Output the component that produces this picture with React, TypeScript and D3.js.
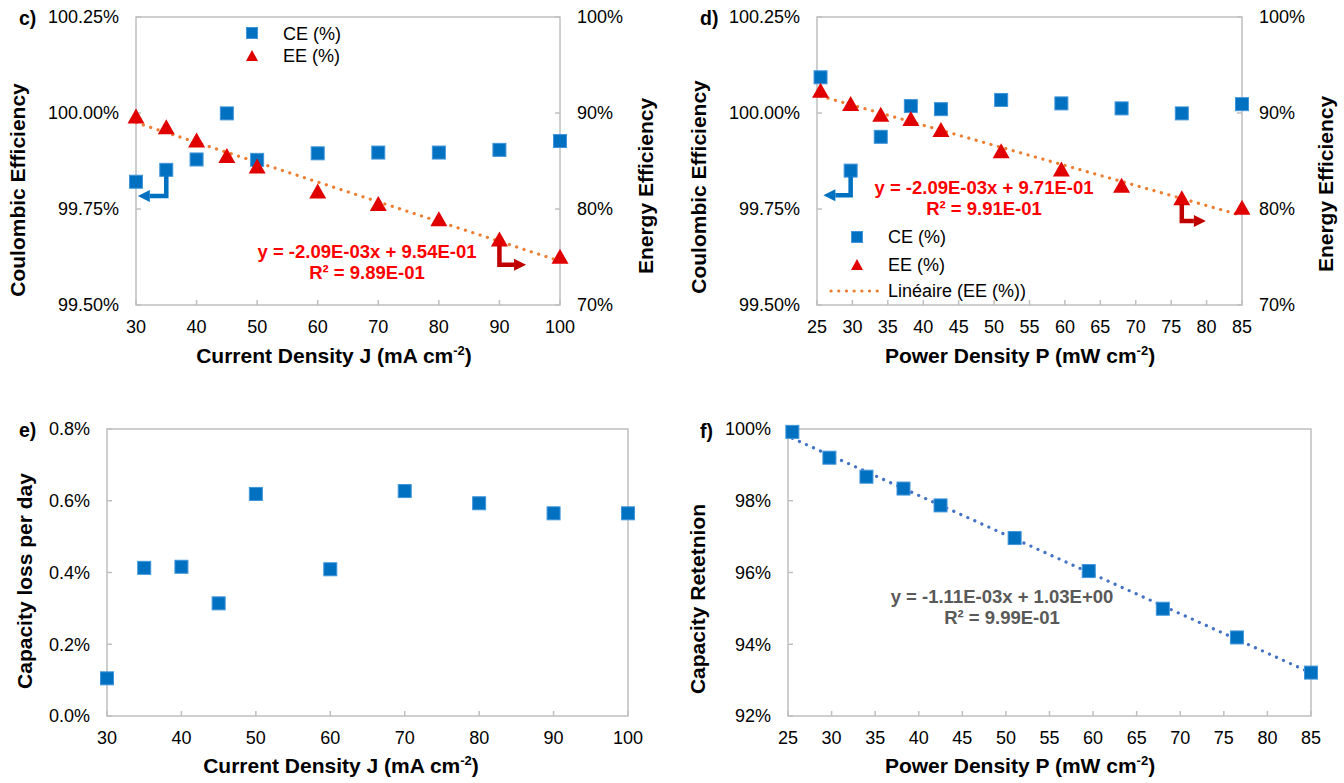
import React from 'react';
import * as d3 from 'd3';

// ---------- DATA ----------
const currentDensity = [30, 35, 40, 45, 50, 60, 70, 80, 90, 100];
const powerDensity = [25.5, 29.75, 34, 38.25, 42.5, 51, 59.5, 68, 76.5, 85];
const ceByCurrent = [99.821, 99.852, 99.879, 99.999, 99.878, 99.895, 99.897, 99.897, 99.904, 99.927];
const eeByCurrent = [89.6, 88.5, 87.1, 85.5, 84.4, 81.8, 80.5, 78.9, 76.8, 75.0];
const ceByPower = [100.093, 99.85, 99.938, 100.018, 100.01, 100.034, 100.025, 100.012, 99.999, 100.023];
const eeByPower = [92.3, 90.9, 89.8, 89.35, 88.2, 86.0, 84.1, 82.4, 81.1, 80.1];
const lossByCurrent = [0.105, 0.413, 0.416, 0.314, 0.619, 0.409, 0.627, 0.593, 0.565, 0.565];
const retentionByPower = [99.92, 99.2, 98.67, 98.34, 97.87, 96.96, 96.04, 94.99, 94.19, 93.21];

const currentTicks = [30, 40, 50, 60, 70, 80, 90, 100];
const powerTicks = [25, 30, 35, 40, 45, 50, 55, 60, 65, 70, 75, 80, 85];
const ceTicks = [99.5, 99.75, 100.0, 100.25];
const eeTicks = [70, 80, 90, 100];
const lossTicks = [0, 0.2, 0.4, 0.6, 0.8];
const retentionTicks = [92, 94, 96, 98, 100];

const eqC = ['y = -2.09E-03x + 9.54E-01', 'R² = 9.89E-01'];
const eqD = ['y = -2.09E-03x + 9.71E-01', 'R² = 9.91E-01'];
const eqF = ['y = -1.11E-03x + 1.03E+00', 'R² = 9.99E-01'];

// ---------- STYLE ----------
const SANS = "'Liberation Sans', Arial, sans-serif";
const AXIS = '#BFBFBF';
const BLUE = '#0070C0';
const BLUE_EDGE = '#3F95DA';
const RED = '#E00000';
const DARKRED = '#C00000';
const ORANGE = '#ED7D31';
const TREND_BLUE = '#4472C4';
const TICK_FS = 18;

function linReg(xs: number[], ys: number[]) {
  const mx = d3.mean(xs) as number;
  const my = d3.mean(ys) as number;
  let sxy = 0, sxx = 0;
  xs.forEach((x, i) => { sxy += (x - mx) * (ys[i] - my); sxx += (x - mx) * (x - mx); });
  const slope = sxy / sxx;
  return { slope, intercept: my - slope * mx };
}

type Box = { l: number; r: number; t: number; b: number };

function T({ x, y, size = TICK_FS, bold = false, anchor = 'start', fill = '#000', dy, children }: any) {
  return (
    <text x={x} y={y} dy={dy} textAnchor={anchor} fontFamily={SANS}
      fontWeight={bold ? 'bold' : 'normal'} fontSize={size} fill={fill}>{children}</text>
  );
}

function Square({ x, y, s = 13 }: { x: number; y: number; s?: number }) {
  return <rect x={x - s / 2} y={y - s / 2} width={s} height={s} fill={BLUE} stroke={BLUE_EDGE} strokeWidth={1} />;
}
function Tri({ x, y, w = 17, h = 15 }: { x: number; y: number; w?: number; h?: number }) {
  return <path d={`M${x},${y - h * 0.55}L${x + w / 2},${y + h * 0.45}L${x - w / 2},${y + h * 0.45}Z`} fill={RED} />;
}

function Frame({ box, x, xTicks, y, yTicks, yFmt, y2, y2Ticks, y2Fmt }: any) {
  return (
    <g>
      <rect x={box.l} y={box.t} width={box.r - box.l} height={box.b - box.t} fill="none" stroke={AXIS} strokeWidth={1.5} />
      {xTicks.map((t: number) => (
        <g key={'x' + t}>
          <line x1={x(t)} x2={x(t)} y1={box.b} y2={box.b - 5} stroke={AXIS} strokeWidth={1.5} />
          <T x={x(t)} y={box.b + 28} anchor="middle">{t}</T>
        </g>
      ))}
      {yTicks.map((t: number) => (
        <g key={'y' + t}>
          <line x1={box.l} x2={box.l + 5} y1={y(t)} y2={y(t)} stroke={AXIS} strokeWidth={1.5} />
          <T x={box.l - 17} y={y(t)} dy="0.36em" anchor="end">{yFmt(t)}</T>
        </g>
      ))}
      {y2 && y2Ticks.map((t: number) => (
        <g key={'y2' + t}>
          <line x1={box.r} x2={box.r - 5} y1={y2(t)} y2={y2(t)} stroke={AXIS} strokeWidth={1.5} />
          <T x={box.r + 17} y={y2(t)} dy="0.36em" anchor="start">{y2Fmt(t)}</T>
        </g>
      ))}
    </g>
  );
}

function XTitle({ x, y, label }: { x: number; y: number; label: string }) {
  return (
    <T x={x} y={y} size={21} bold anchor="middle">
      {label}<tspan fontSize={13} dy={-8}>-2</tspan><tspan dy={8}>)</tspan>
    </T>
  );
}
function YTitle({ x, y, label }: { x: number; y: number; label: string }) {
  return (
    <text transform={`translate(${x},${y}) rotate(-90)`} textAnchor="middle" fontFamily={SANS} fontWeight="bold" fontSize={21} fill="#000">{label}</text>
  );
}
function PanelLabel({ x, y, label }: { x: number; y: number; label: string }) {
  return <T x={x} y={y} size={19.5} bold>{label}</T>;
}
function Equation({ x, y, lines, color }: { x: number; y: number; lines: string[]; color: string }) {
  return (
    <g>
      {lines.map((l, i) => (
        <T key={i} x={x} y={y + i * 21} size={18.5} bold anchor="middle" fill={color}>{l}</T>
      ))}
    </g>
  );
}
function ElbowArrow({ x0, y0, y1, x1, color }: { x0: number; y0: number; y1: number; x1: number; color: string }) {
  const dir = x1 < x0 ? -1 : 1;
  const head = 12;
  return (
    <g>
      <path d={`M${x0},${y0}L${x0},${y1}L${x1 - dir * head},${y1}`} fill="none" stroke={color} strokeWidth={4.5} strokeLinejoin="miter" />
      <path d={`M${x1},${y1}L${x1 - dir * head},${y1 - 6}L${x1 - dir * head},${y1 + 6}Z`} fill={color} />
    </g>
  );
}
function Trend({ xs, ys, x, y, color }: any) {
  const { slope, intercept } = linReg(xs, ys);
  const ends = d3.extent(xs) as [number, number];
  const line = d3.line<number>().x(v => x(v)).y(v => y(slope * v + intercept));
  return <path d={line(ends) || ''} fill="none" stroke={color} strokeWidth={3.2} strokeLinecap="round" strokeDasharray="0.1 7.6" />;
}

const pctFix = (n: number) => (v: number) => d3.format(`.${n}f`)(v) + '%';

export default function App() {
  // Panel c
  const bc: Box = { l: 136, r: 560, t: 17, b: 305 };
  const xc = d3.scaleLinear().domain([30, 100]).range([bc.l, bc.r]);
  const yc = d3.scaleLinear().domain([99.5, 100.25]).range([bc.b, bc.t]);
  const yc2 = d3.scaleLinear().domain([70, 100]).range([bc.b, bc.t]);
  // Panel d
  const bd: Box = { l: 817, r: 1242, t: 17, b: 305 };
  const xd = d3.scaleLinear().domain([25, 85]).range([bd.l, bd.r]);
  const yd = d3.scaleLinear().domain([99.5, 100.25]).range([bd.b, bd.t]);
  const yd2 = d3.scaleLinear().domain([70, 100]).range([bd.b, bd.t]);
  // Panel e
  const be: Box = { l: 107, r: 628, t: 429, b: 716 };
  const xe = d3.scaleLinear().domain([30, 100]).range([be.l, be.r]);
  const ye = d3.scaleLinear().domain([0, 0.8]).range([be.b, be.t]);
  // Panel f
  const bf: Box = { l: 788, r: 1311, t: 429, b: 716 };
  const xf = d3.scaleLinear().domain([25, 85]).range([bf.l, bf.r]);
  const yf = d3.scaleLinear().domain([92, 100]).range([bf.b, bf.t]);

  return (
    <svg width={1344} height={783} style={{ position: 'absolute', left: 0, top: 0, background: '#fff' }}>
      <rect width={1344} height={783} fill="#fff" />

      {/* ---------- c ---------- */}
      <Frame box={bc} x={xc} xTicks={currentTicks} y={yc} yTicks={ceTicks} yFmt={pctFix(2)} y2={yc2} y2Ticks={eeTicks} y2Fmt={pctFix(0)} />
      <Trend xs={currentDensity} ys={eeByCurrent} x={xc} y={yc2} color={ORANGE} />
      {currentDensity.map((v, i) => <Square key={'cc' + i} x={xc(v)} y={yc(ceByCurrent[i])} />)}
      {currentDensity.map((v, i) => <Tri key={'ce' + i} x={xc(v)} y={yc2(eeByCurrent[i])} />)}
      <ElbowArrow x0={xc(currentDensity[1])} y0={yc(ceByCurrent[1]) + 6} y1={yc(99.784)} x1={xc(30.3)} color={BLUE} />
      <ElbowArrow x0={xc(currentDensity[8])} y0={yc2(eeByCurrent[8]) + 6} y1={yc2(74.2)} x1={xc(94.4)} color={DARKRED} />
      <Square x={252} y={33} s={11} />
      <T x={283} y={40}>CE (%)</T>
      <Tri x={252} y={56} w={12} h={11} />
      <T x={283} y={62}>EE (%)</T>
      <Equation x={367} y={258} lines={eqC} color="#FF0000" />
      <PanelLabel x={19} y={25} label="c)" />
      <XTitle x={334} y={363} label="Current Density J (mA cm" />
      <YTitle x={25} y={190} label="Coulombic Efficiency" />
      <YTitle x={653} y={186} label="Energy Efficiency" />

      {/* ---------- d ---------- */}
      <Frame box={bd} x={xd} xTicks={powerTicks} y={yd} yTicks={ceTicks} yFmt={pctFix(2)} y2={yd2} y2Ticks={eeTicks} y2Fmt={pctFix(0)} />
      <Trend xs={powerDensity} ys={eeByPower} x={xd} y={yd2} color={ORANGE} />
      {powerDensity.map((v, i) => <Square key={'dc' + i} x={xd(v)} y={yd(ceByPower[i])} />)}
      {powerDensity.map((v, i) => <Tri key={'de' + i} x={xd(v)} y={yd2(eeByPower[i])} />)}
      <ElbowArrow x0={xd(powerDensity[1])} y0={yd(ceByPower[1]) + 6} y1={yd(99.786)} x1={xd(25.9)} color={BLUE} />
      <ElbowArrow x0={xd(powerDensity[8])} y0={yd2(eeByPower[8]) + 6} y1={yd2(78.75)} x1={xd(79.9)} color={DARKRED} />
      <Equation x={984} y={194} lines={eqD} color="#FF0000" />
      <Square x={857} y={237} s={11} />
      <T x={888} y={243}>CE (%)</T>
      <Tri x={857} y={265} w={12} h={11} />
      <T x={888} y={271}>EE (%)</T>
      <line x1={831} x2={879} y1={291} y2={291} stroke={ORANGE} strokeWidth={3.2} strokeLinecap="round" strokeDasharray="0.1 7.6" />
      <T x={888} y={297}>Linéaire (EE (%))</T>
      <PanelLabel x={700} y={25} label="d)" />
      <XTitle x={1020} y={363} label="Power Density P (mW cm" />
      <YTitle x={706} y={187} label="Coulombic Efficiency" />
      <YTitle x={1333} y={184} label="Energy Efficiency" />

      {/* ---------- e ---------- */}
      <Frame box={be} x={xe} xTicks={currentTicks} y={ye} yTicks={lossTicks} yFmt={pctFix(1)} />
      {currentDensity.map((v, i) => <Square key={'e' + i} x={xe(v)} y={ye(lossByCurrent[i])} />)}
      <PanelLabel x={19} y={437} label="e)" />
      <XTitle x={341} y={773} label="Current Density J (mA cm" />
      <YTitle x={32} y={581} label="Capacity loss per day" />

      {/* ---------- f ---------- */}
      <Frame box={bf} x={xf} xTicks={powerTicks} y={yf} yTicks={retentionTicks} yFmt={pctFix(0)} />
      <Trend xs={powerDensity} ys={retentionByPower} x={xf} y={yf} color={TREND_BLUE} />
      {powerDensity.map((v, i) => <Square key={'f' + i} x={xf(v)} y={yf(retentionByPower[i])} />)}
      <Equation x={1002} y={603} lines={eqF} color="#595959" />
      <PanelLabel x={700} y={438} label="f)" />
      <XTitle x={1020} y={773} label="Power Density P (mW cm" />
      <YTitle x={705} y={599} label="Capacity Retetnion" />
    </svg>
  );
}
